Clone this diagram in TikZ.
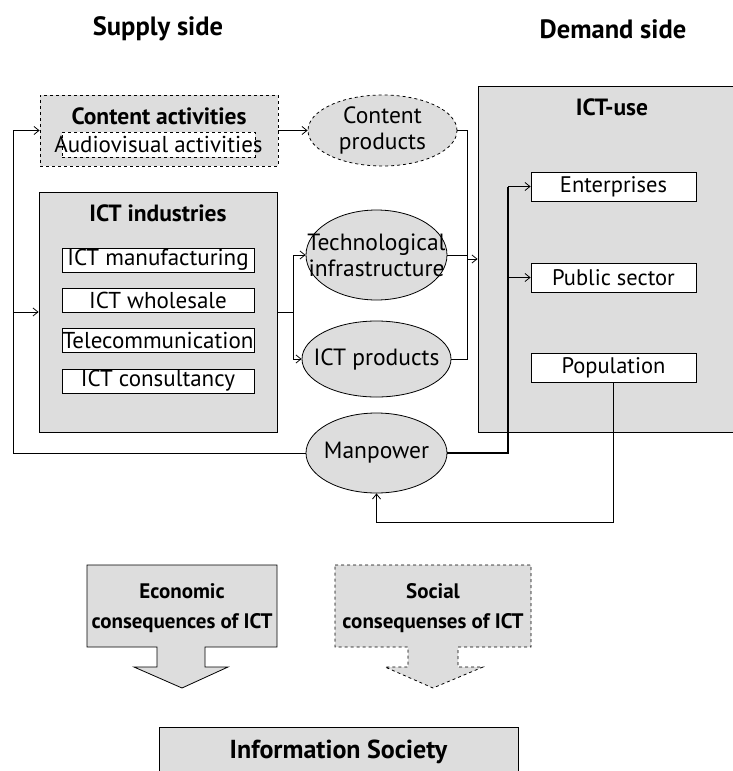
\documentclass[tikz,border=0pt]{standalone}
\usepackage{fontspec}
\setmainfont{PT Sans}
\usetikzlibrary{shapes.geometric,arrows.meta}
\definecolor{panelgray}{RGB}{221,221,221}
\newcommand{\ztext}[1]{\makebox[0pt]{#1}}
\tikzset{%
  panel/.style    = {shape=rectangle, draw, fill=panelgray, inner sep=0pt},%
  item/.style     = {shape=rectangle, draw, fill=white, inner sep=0pt,%
                     minimum width=192pt, minimum height=24pt,%
                     font=\fontsize{23}{26}\selectfont},%
  useitem/.style  = {item, minimum width=165pt, minimum height=29pt,%
                     font=\fontsize{22.5}{26}\selectfont},%
  blob/.style     = {shape=ellipse, draw, fill=panelgray, inner sep=0pt,%
                     align=center, font=\fontsize{23.5}{26}\selectfont},%
  heading/.style  = {font=\bfseries\fontsize{26.5}{30}\selectfont},%
  title/.style    = {font=\bfseries\fontsize{23.5}{26}\selectfont},%
  consq/.style    = {align=center, font=\bfseries\fontsize{21}{30}\selectfont},%
  heavy/.style    = {line width=1.5pt}%
}
\begin{document}
\begin{tikzpicture}[x=1pt,y=-1pt,line width=0.8pt,>={Straight Barb[length=5pt,width=8pt]}]
  \useasboundingbox (0,0) rectangle (733,771);
  % headings
  \node[heading] (supply) at (158,29) {Supply side};
  \node[heading] (demand) at (613,29) {Demand side};
  % supply side
  \node[panel, dashed, minimum width=238pt, minimum height=71pt] (content) at (159,130.5) {};
  \node[title] (contenttitle) at (159,116) {Content activities};
  \node[item, dashed, minimum width=193pt, minimum height=25pt] (audio) at (158.5,144.5) {\ztext{Audiovisual activities}};
  \node[panel, minimum width=238pt, minimum height=240pt] (ictind) at (158,312) {};
  \node[title] (ictindtitle) at (158,213) {ICT industries};
  \node[item] (manuf) at (158,260) {\ztext{ICT manufacturing}};
  \node[item] (whole) at (158,300) {\ztext{ICT wholesale}};
  \node[item] (telecom) at (158,340.5) {\ztext{Telecommunication}};
  \node[item] (consult) at (158,381) {\ztext{ICT consultancy}};
  % products and manpower
  \node[blob, dashed, minimum width=149pt, minimum height=71pt] (cprod) at (382.5,130.5) {\ztext{Content}\\\ztext{products}};
  \node[blob, minimum width=141pt, minimum height=90pt] (techinfra) at (376.5,255) {\ztext{Technological}\\\ztext{infrastructure}};
  \node[blob, minimum width=149pt, minimum height=76pt] (ictprod) at (376.5,359) {\ztext{ICT products}};
  \node[blob, minimum width=141pt, minimum height=80pt] (manpower) at (376.5,453) {\ztext{Manpower}};
  % demand side
  \node[panel, minimum width=272pt, minimum height=346pt] (ictuse) at (614,259) {};
  \node[title] (ictusetitle) at (612,107) {ICT-use};
  \node[useitem] (enterprises) at (613.5,186.5) {\ztext{Enterprises}};
  \node[useitem] (public) at (613.5,277.5) {\ztext{Public sector}};
  \node[useitem] (population) at (613.5,368) {\ztext{Population}};
  % connectors
  \coordinate (split) at (293,312);
  \coordinate (merge) at (467,259);
  \coordinate (mpbend) at (508,453);
  \coordinate (popturn) at (613.5,522);
  \coordinate (loop) at (13,453);
  \draw[->] (content.east) -- (cprod.west);
  \draw (ictind.east) -- (split);
  \draw[->] (split) |- (techinfra.west);
  \draw[->] (split) |- (ictprod.west);
  \draw (cprod.east) -| (merge);
  \draw (ictprod.east) -| (merge);
  \draw (techinfra.east) -- (techinfra.east -| merge);
  \draw[->] (merge) -- (ictuse.west);
  \draw[heavy] (manpower.east) -- (mpbend) -- (mpbend |- enterprises.west);
  \draw[->] (mpbend |- enterprises.west) -- (enterprises.west);
  \draw[->] (mpbend |- public.west) -- (public.west);
  \draw[->] (population.south) -- (popturn) -| (manpower.south);
  \draw (manpower.west) -- (loop);
  \draw[->] (loop) |- (content.west);
  \draw[->] (loop |- ictind.west) -- (ictind.west);
  % consequences
  \draw[fill=panelgray] (87,565) -- (277,565) -- (277,647) -- (205,647) -- (205,667) -- (228,667)
    -- (182,688) -- (134,667) -- (157,667) -- (157,647) -- (87,647) -- cycle;
  \node[consq] (econ) at (182,608) {Economic\\consequences of ICT};
  \draw[fill=panelgray, dashed] (335,565) -- (531,565) -- (531,647) -- (458,647) -- (458,667) -- (483,667)
    -- (433,688) -- (385,667) -- (408,667) -- (408,647) -- (335,647) -- cycle;
  \node[consq] (social) at (433,608) {Social\\consequenses of ICT};
  % result
  \node[panel, anchor=north west, minimum width=359pt, minimum height=70pt] (infosoc) at (159,727) {};
  \node[title, font=\bfseries\fontsize{26}{30}\selectfont] (infosoctitle) at (338.5,752) {Information Society};
\end{tikzpicture}
\end{document}
